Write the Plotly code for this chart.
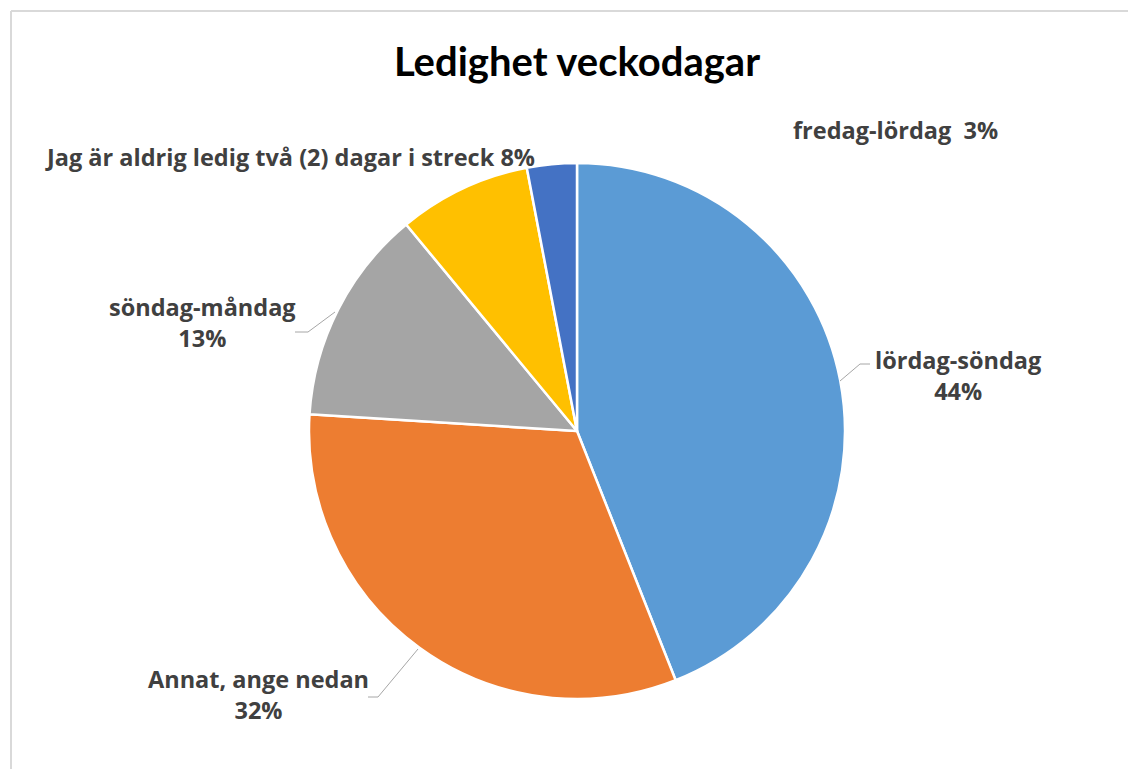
import plotly.graph_objects as go

W, H = 1128, 769

labels = ["lördag-söndag", "Annat, ange nedan", "söndag-måndag",
          "Jag är aldrig ledig två (2) dagar i streck", "fredag-lördag"]
values = [44, 32, 13, 8, 3]
colors = ["#5B9BD5", "#ED7D31", "#A5A5A5", "#FFC000", "#4472C4"]
title = "Ledighet veckodagar"

LABEL_FONT = "Open Sans"
TITLE_FONT = "Lato"
LABEL_COLOR = "#404040"


def px(x, y):
    return x / W, 1 - y / H


cx, cy, r = 577, 431, 268
x0, y1 = px(cx - r, cy - r)
x1, y0 = px(cx + r, cy + r)

fig = go.Figure(go.Pie(
    labels=labels,
    values=values,
    sort=False,
    direction="clockwise",
    rotation=0,
    marker=dict(colors=colors, line=dict(color="white", width=2.5)),
    textinfo="none",
    hoverinfo="label+percent",
    domain=dict(x=[x0, x1], y=[y0, y1]),
    showlegend=False,
))

pct = [round(v * 100 / sum(values)) for v in values]
label_pos = [  # (center x, center y) in pixels, text format
    (958, 375, "{l}<br>{p}%"),
    (258, 694, "{l}<br>{p}%"),
    (202, 322, "{l}<br>{p}%"),
    (290, 157, "{l} {p}%"),
    (895, 130, "{l}  {p}%"),
]
annotations = []
for (lx, ly, fmt), l, p in zip(label_pos, labels, pct):
    ax, ay = px(lx, ly)
    annotations.append(dict(
        x=ax, y=ay, xref="paper", yref="paper", xanchor="center", yanchor="middle",
        text="<b>" + fmt.format(l=l, p=p).replace("<br>", "</b><br><b>") + "</b>",
        showarrow=False, align="center",
        font=dict(family=LABEL_FONT, size=23.5, color=LABEL_COLOR),
    ))

shapes = []
leaders = [
    [(870, 364), (860, 364), (840, 381)],
    [(368, 697), (378, 697), (418, 649)],
    [(295, 332), (308, 332), (335, 312)],
]
for pts in leaders:
    path = ""
    for i, (x, y) in enumerate(pts):
        X, Y = px(x, y)
        path += ("M" if i == 0 else "L") + f"{X},{Y} "
    shapes.append(dict(type="path", xref="paper", yref="paper", path=path,
                       line=dict(color="#A6A6A6", width=1)))

# chart frame
for a, b in [((11, 11), (W, 11)), ((11, 11), (11, H))]:
    X0, Y0 = px(*a)
    X1, Y1 = px(*b)
    shapes.append(dict(type="line", xref="paper", yref="paper", x0=X0, y0=Y0, x1=X1, y1=Y1,
                       line=dict(color="#D9D9D9", width=2)))

fig.update_layout(
    width=W, height=H,
    margin=dict(l=0, r=0, t=0, b=0),
    paper_bgcolor="white",
    plot_bgcolor="white",
    title=dict(text="<b>" + title + "</b>", x=577 / W, xanchor="center",
               y=1 - 62 / H, yanchor="middle",
               font=dict(family=TITLE_FONT, size=40, color="black")),
    annotations=annotations,
    shapes=shapes,
)

fig.write_html("out.html", config={"displayModeBar": False},
               post_script="document.body.style.margin='0px';")
